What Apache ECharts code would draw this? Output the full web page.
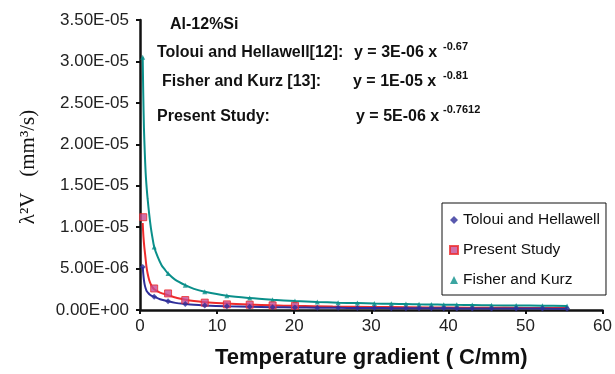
<!DOCTYPE html>
<html>
<head>
<meta charset="utf-8">
<script src="https://cdn.jsdelivr.net/npm/echarts@6/dist/echarts.min.js"></script>
<style>
  html, body { margin: 0; padding: 0; background: #fff; }
  #chart { width: 615px; height: 374px; }
</style>
</head>
<body>
<div id="chart"></div>
<script>
// Temperature gradient (C/mm) at which the data points sit
const gradientX = [0.35, 1.84, 3.64, 5.87, 8.4, 11.27, 14.23, 17.2, 20.1, 23.0, 25.7, 28.2,
  30.4, 32.6, 34.5, 36.2, 37.8, 39.4, 41.1, 43.1, 45.6, 48.8, 52.2, 55.4];

// Toloui and Hellawell: lambda^2 V (mm^3/s)
const tolouiY = [5.2e-6, 1.6e-6, 1.05e-6, 7.2e-7, 5.5e-7, 4.5e-7, 3.9e-7, 3.4e-7, 3.1e-7, 2.8e-7, 2.6e-7, 2.45e-7,
  2.35e-7, 2.25e-7, 2.15e-7, 2.1e-7, 2.05e-7, 2.0e-7, 1.95e-7, 1.9e-7, 1.82e-7, 1.75e-7, 1.68e-7, 1.6e-7];
// extra points along the steep part of the Toloui curve
const tolouiCurveX = [0.42, 0.51, 0.62, 0.74, 0.86, 1.07, 1.29, 1.55, 2.6, 4.6, 7.0];
const tolouiCurveY = [4.4e-6, 3.6e-6, 3.0e-6, 2.6e-6, 2.3e-6, 2.05e-6, 1.84e-6, 1.7e-6, 1.3e-6, 8.6e-7, 6.2e-7];

// Fisher and Kurz
const fisherY = [3.05e-5, 7.6e-6, 4.4e-6, 3.0e-6, 2.2e-6, 1.72e-6, 1.44e-6, 1.24e-6, 1.08e-6, 9.7e-7, 8.9e-7, 8.3e-7,
  7.8e-7, 7.4e-7, 7.1e-7, 6.8e-7, 6.6e-7, 6.4e-7, 6.2e-7, 6.0e-7, 5.7e-7, 5.4e-7, 5.2e-7, 4.9e-7];
const fisherCurveX = [0.42, 0.51, 0.62, 0.73, 0.86, 0.99, 1.2, 1.41, 1.62, 2.3, 2.8, 3.2, 4.5, 7.0];
const fisherCurveY = [2.62e-5, 2.2e-5, 1.9e-5, 1.66e-5, 1.48e-5, 1.34e-5, 1.15e-5, 9.9e-6, 8.7e-6, 6.4e-6, 5.4e-6, 4.9e-6,
  3.7e-6, 2.55e-6];

// Present study: measured points
const presentX = [0.42, 1.84, 3.64, 5.87, 8.4, 11.27, 14.23, 17.2, 20.1];
const presentY = [1.12e-5, 2.6e-6, 2.0e-6, 1.2e-6, 8.9e-7, 6.8e-7, 6.4e-7, 5.6e-7, 5.0e-7];
// Present study: fitted power curve
const presentCurveX = [0.35, 0.45, 0.56, 0.68, 0.83, 0.99, 1.2, 1.41, 1.62, 1.84, 2.6, 3.64, 4.6, 5.87, 7.0, 8.4,
  11.27, 14.23, 17.2, 20.1, 25, 30, 35, 40, 45, 50, 55.4];
const presentCurveY = [1.05e-5, 8.8e-6, 7.6e-6, 6.6e-6, 5.3e-6, 4.4e-6, 3.6e-6, 3.1e-6, 2.75e-6, 2.5e-6, 2.1e-6, 1.8e-6,
  1.5e-6, 1.25e-6, 1.08e-6, 9.5e-7, 7.7e-7, 6.5e-7, 5.6e-7, 5.0e-7, 4.2e-7, 3.7e-7, 3.3e-7, 3.0e-7, 2.7e-7, 2.5e-7, 2.4e-7];

const seriesNames = ['Toloui and Hellawell', 'Present Study', 'Fisher and Kurz'];
const xTickLabels = ['0', '10', '20', '30', '40', '50', '60'];
const yTickLabels = ['0.00E+00', '5.00E-06', '1.00E-05', '1.50E-05', '2.00E-05', '2.50E-05', '3.00E-05', '3.50E-05'];

const pairs = (xs, ys) => xs.map((x, i) => [x, ys[i]]);
const merged = (xs, ys, ex, ey) => pairs(xs, ys).concat(pairs(ex, ey)).sort((a, b) => a[0] - b[0]);

const BLUE = '#2f2f9a', RED = '#ee2b2b', TEAL = '#0a8f8a';
const sans = '"Liberation Sans", Arial, sans-serif';

const chart = echarts.init(document.getElementById('chart'), null, { renderer: 'canvas' });

const curve = (name, data, color) => ({
  name, type: 'line', data, smooth: 0.3, showSymbol: false, symbol: 'none',
  lineStyle: { color, width: 2 }, silent: true, z: 2
});

const label = (left, top, text, size) => ({
  type: 'text', left, top, style: { text, font: 'bold ' + size + 'px ' + sans, fill: '#111' }
});

chart.setOption({
  animation: false,
  backgroundColor: '#fff',
  textStyle: { fontFamily: sans },
  grid: { left: 140, right: 8, top: 20, bottom: 61 },
  xAxis: {
    type: 'value', min: 0, max: 60, interval: 10,
    axisLine: { lineStyle: { color: '#111', width: 2.5 } },
    axisTick: { lineStyle: { color: '#111', width: 2 }, length: 4 },
    splitLine: { show: false },
    axisLabel: { color: '#222', fontSize: 17, margin: 8, formatter: v => xTickLabels[Math.round(v / 10)] },
    name: 'Temperature gradient ( C/mm)', nameLocation: 'middle', nameGap: 37,
    nameTextStyle: { fontSize: 22, fontWeight: 'bold', color: '#111' }
  },
  yAxis: {
    type: 'value', min: 0, max: 3.5e-5, interval: 5e-6,
    axisLine: { show: true, lineStyle: { color: '#111', width: 2.5 } },
    axisTick: { show: true, lineStyle: { color: '#111', width: 2 }, length: 4 },
    splitLine: { show: false },
    axisLabel: { color: '#222', fontSize: 17, margin: 11, formatter: v => yTickLabels[Math.round(v / 5e-6)] }
  },
  legend: {
    orient: 'vertical', left: 442, top: 203,
    padding: [9, 6, 7, 7], itemGap: 14, itemWidth: 8, itemHeight: 8,
    borderColor: '#111', borderWidth: 1, backgroundColor: '#fff',
    textStyle: { fontSize: 15.5, color: '#111', fontFamily: sans },
    data: [
      { name: seriesNames[0], icon: 'diamond' },
      { name: seriesNames[1], icon: 'rect' },
      { name: seriesNames[2], icon: 'triangle' }
    ]
  },
  graphic: [
    label(170, 17, 'Al-12%Si', 16),
    label(157, 45, 'Toloui and Hellawell[12]:', 16),
    label(354, 45, 'y = 3E-06 x', 16),
    label(443, 41, '-0.67', 11),
    label(162, 74, 'Fisher and Kurz [13]:', 16),
    label(353, 74, 'y = 1E-05 x', 16),
    label(443, 70, '-0.81', 11),
    label(157, 109, 'Present Study:', 16),
    label(356, 109, 'y = 5E-06 x', 16),
    label(443, 104, '-0.7612', 11),
    {
      type: 'text', x: 28, y: 167, rotation: Math.PI / 2,
      style: {
        text: 'λ²V   (mm³/s)', font: '21px "Liberation Serif", "Times New Roman", serif', fill: '#111',
        textAlign: 'center', textVerticalAlign: 'middle'
      }
    }
  ],
  series: [
    curve('fisher-curve', merged(gradientX, fisherY, fisherCurveX, fisherCurveY), TEAL),
    curve('present-curve', pairs(presentCurveX, presentCurveY), RED),
    curve('toloui-curve', merged(gradientX, tolouiY, tolouiCurveX, tolouiCurveY), BLUE),
    {
      name: seriesNames[2], type: 'scatter', data: pairs(gradientX, fisherY),
      symbol: 'triangle', symbolSize: 5, itemStyle: { color: TEAL }, z: 4
    },
    {
      name: seriesNames[1], type: 'scatter', data: pairs(presentX, presentY),
      symbol: 'rect', symbolSize: 7, itemStyle: { color: '#c64b93', borderColor: RED, borderWidth: 1 }, z: 4
    },
    {
      name: seriesNames[0], type: 'scatter', data: pairs(gradientX, tolouiY),
      symbol: 'diamond', symbolSize: 6, itemStyle: { color: BLUE }, z: 5
    }
  ]
});
</script>
</body>
</html>
